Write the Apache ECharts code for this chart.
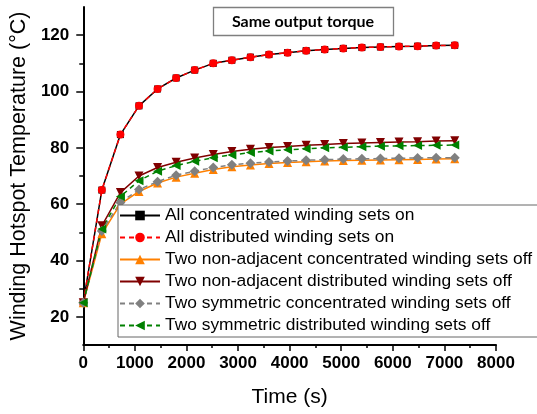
<!DOCTYPE html>
<html>
<head>
<meta charset="utf-8">
<script src="https://cdn.jsdelivr.net/npm/echarts@6/dist/echarts.min.js"></script>
<style>
html,body{margin:0;padding:0;background:#fff;}
#chart{width:537px;height:414px;}
</style>
</head>
<body>
<div id="chart"></div>
<script>
var timeS = [0, 360, 720, 1080, 1440, 1800, 2160, 2520, 2880, 3240, 3600, 3960, 4320, 4680, 5040, 5400, 5760, 6120, 6480, 6840, 7200];
var allConcentrated = [25, 65, 84.7, 94.9, 100.9, 104.8, 107.6, 110, 111.1, 112.2, 113.1, 113.8, 114.5, 114.9, 115.3, 115.6, 115.8, 116, 116.1, 116.3, 116.4];
var allDistributed = [25, 65, 84.7, 94.9, 100.9, 104.8, 107.6, 110, 111.1, 112.2, 113.1, 113.8, 114.5, 114.9, 115.3, 115.6, 115.8, 116, 116.1, 116.3, 116.4];
var nonAdjConcentrated = [25, 49.5, 60, 64.5, 67.5, 69.6, 71, 72.3, 73.3, 73.9, 74.4, 74.8, 75.1, 75.3, 75.5, 75.6, 75.7, 75.8, 75.9, 76, 76.1];
var nonAdjDistributed = [25, 52.3, 64.1, 70, 73, 74.9, 76.4, 77.6, 78.7, 79.5, 80.1, 80.5, 80.9, 81.2, 81.5, 81.7, 81.9, 82.1, 82.2, 82.4, 82.5];
var symConcentrated = [25, 50.5, 60.6, 65.2, 68, 70.3, 71.7, 73, 74, 74.5, 75, 75.3, 75.6, 75.8, 76, 76.1, 76.2, 76.3, 76.4, 76.5, 76.5];
var symDistributed = [25, 51.2, 62.7, 68.3, 71.7, 73.7, 75.2, 76.5, 77.5, 78.3, 78.9, 79.3, 79.7, 80, 80.2, 80.4, 80.6, 80.7, 80.8, 80.9, 81];
var seriesNames = [
  'All concentrated winding sets on',
  'All distributed winding sets on',
  'Two non-adjacent concentrated winding sets off',
  'Two non-adjacent distributed winding sets off',
  'Two symmetric concentrated winding sets off',
  'Two symmetric distributed winding sets off'
];
var yMajorTicks = [20, 40, 60, 80, 100, 120];
var yMinorTicks = [30, 50, 70, 90, 110];
var titleText = 'Same output torque';
var xName = 'Time (s)';
var yName = 'Winding Hotspot Temperature (\u00B0C)';

function pairs(vals) { return timeS.map(function (t, i) { return [t, vals[i]]; }); }

var FONT = '"Liberation Sans", Arial, sans-serif';
var chart = echarts.init(document.getElementById('chart'), null, {renderer: 'canvas'});

function mk(name, vals, color, dashed, symbol, size, rotate) {
  return {
    name: name, type: 'line', xAxisIndex: 0, yAxisIndex: 0,
    data: pairs(vals),
    symbol: symbol, symbolSize: size, symbolRotate: rotate || 0,
    showSymbol: true,
    lineStyle: {color: color, width: 1.5, type: dashed ? [5, 4] : 'solid'},
    itemStyle: {color: color, borderWidth: 0},
    emphasis: {disabled: true},
    animation: false
  };
}

var option = {
  animation: false,
  backgroundColor: '#fff',
  grid: {left: 77, right: 41, top: 7, bottom: 69, containLabel: false},
  graphic: [
    {type: 'rect', shape: {x: 213.5, y: 7.5, width: 180, height: 28}, style: {fill: '#fff', stroke: '#7f7f7f', lineWidth: 1.3}, z: 100},
    {type: 'text', x: 303, y: 22, style: {text: titleText, font: 'bold 16px Lato, "Open Sans", sans-serif', fill: '#000', align: 'center', verticalAlign: 'middle'}, z: 101}
  ],
  legend: {
    orient: 'vertical', left: 118, top: 205,
    padding: [0, 12, 1, 1],
    itemWidth: 40, itemHeight: 12, itemGap: 1,
    backgroundColor: '#fff', borderColor: '#666', borderWidth: 1,
    textStyle: {fontFamily: FONT, fontSize: 17.4, color: '#000', lineHeight: 21},
    data: seriesNames
  },
  xAxis: {
    type: 'value', min: 0, max: 8000, interval: 1000,
    name: xName, nameLocation: 'middle', nameGap: 42,
    nameTextStyle: {fontFamily: FONT, fontSize: 21, color: '#000'},
    axisLine: {show: true, onZero: false, lineStyle: {color: '#000', width: 2}},
    axisTick: {show: true, inside: false, length: 6, lineStyle: {color: '#000', width: 1.5}},
    minorTick: {show: true, splitNumber: 2, length: 3, lineStyle: {color: '#000', width: 1.5}},
    axisLabel: {fontFamily: FONT, fontSize: 17, fontWeight: 'bold', color: '#000', margin: 10,
      formatter: function (v) { return String(v); }},
    splitLine: {show: false}
  },
  yAxis: [{
    type: 'value', min: 10, max: 130,
    name: yName, nameLocation: 'middle', nameGap: 49,
    nameTextStyle: {fontFamily: FONT, fontSize: 21.5, color: '#000'},
    axisLine: {show: true, onZero: false, lineStyle: {color: '#000', width: 2}},
    axisTick: {show: true, inside: false, length: 7, customValues: yMajorTicks, lineStyle: {color: '#000', width: 1.5}},
    axisLabel: {fontFamily: FONT, fontSize: 17, fontWeight: 'bold', color: '#000', margin: 14, customValues: yMajorTicks,
      formatter: function (v) { return String(v); }},
    splitLine: {show: false}
  }, {
    type: 'value', min: 10, max: 130, position: 'left',
    axisLine: {show: false},
    axisTick: {show: true, inside: false, length: 4, customValues: yMinorTicks, lineStyle: {color: '#000', width: 1.5}},
    axisLabel: {show: false},
    splitLine: {show: false}
  }],
  series: [
    mk(seriesNames[0], allConcentrated, '#000000', false, 'rect', 7),
    mk(seriesNames[1], allDistributed, '#ff0000', true, 'circle', 8),
    mk(seriesNames[2], nonAdjConcentrated, '#ff8000', false, 'triangle', 9),
    mk(seriesNames[3], nonAdjDistributed, '#800000', false, 'triangle', 9, 180),
    mk(seriesNames[4], symConcentrated, '#808080', true, 'diamond', 10),
    mk(seriesNames[5], symDistributed, '#008000', true, 'triangle', 9, 90)
  ]
};
chart.setOption(option);
</script>
</body>
</html>
